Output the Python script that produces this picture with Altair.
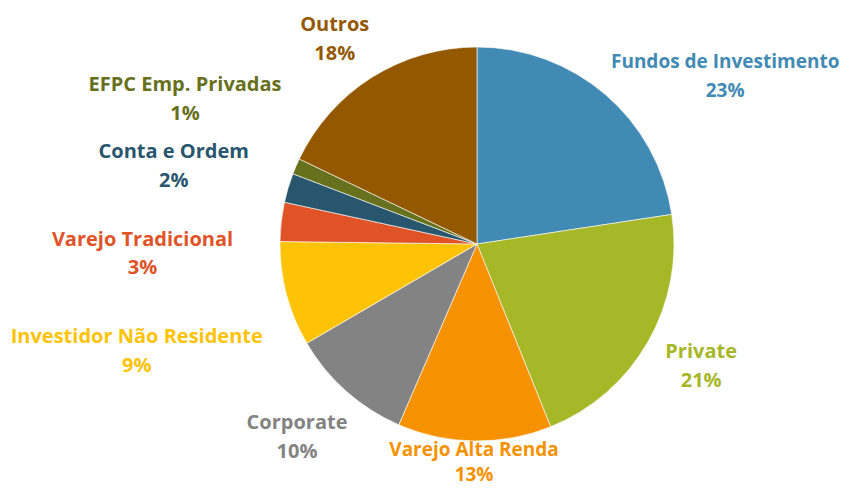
import altair as alt
import pandas as pd

# ---- data ----
categories = [
    "Fundos de Investimento",
    "Private",
    "Varejo Alta Renda",
    "Corporate",
    "Investidor Não Residente",
    "Varejo Tradicional",
    "Conta e Ordem",
    "EFPC Emp. Privadas",
    "Outros",
]
shares = [22.6, 21.3, 12.6, 10.1, 8.6, 3.2, 2.4, 1.3, 17.9]

# ---- styles ----
colors = ["#418AB3", "#A6B727", "#F69200", "#838383", "#FEC306",
          "#DF5327", "#27566D", "#67701D", "#935800"]
# per-label nudges (dx, dy, line height, font size) from the radial anchor, in pixels
label_nudge = {
    "Fundos de Investimento": (95, -4, 29, 19),
    "Private": (20, -8, 29, 20),
    "Varejo Alta Renda": (0, -29, 25, 19),
    "Corporate": (-24, 3, 29, 20),
    "Investidor Não Residente": (-113, 33, 29, 20),
    "Varejo Tradicional": (-101, 23, 28, 20),
    "Conta e Ordem": (-78, -25, 29, 20),
    "EFPC Emp. Privadas": (-76, -66, 29, 20),
    "Outros": (-17, -20, 29, 20),
}
CX, CY = 469, 236      # pie centre inside the plot area
R_PIE = 197
R_LABEL = 235
FONT = "Open Sans"

df = pd.DataFrame({"categoria": categories, "share": shares,
                   "ordem": list(range(len(categories)))})

base = alt.Chart(df)

pie = base.mark_arc(outerRadius=R_PIE, stroke="white", strokeWidth=0.6).encode(
    theta=alt.Theta("share:Q", stack=True),
    order=alt.Order("ordem:Q", sort="ascending"),
    color=alt.Color("categoria:N", scale=alt.Scale(domain=categories, range=colors),
                    legend=None),
    x=alt.value(CX),
    y=alt.value(CY),
)

lab = base.transform_window(
    cum="sum(share)", sort=[alt.SortField("ordem")], frame=[None, 0]
).transform_joinaggregate(total="sum(share)").transform_calculate(
    mid="((datum.cum - datum.share/2)/datum.total)*2*PI",
).transform_calculate(
    lx=f"{CX} + {R_LABEL}*sin(datum.mid)",
    ly=f"{CY} - {R_LABEL}*cos(datum.mid)",
    label="datum.categoria + '\\n' + format(datum.share, '.0f') + '%'",
)

layers = [pie]
for cat, col in zip(categories, colors):
    dx, dy, lh, fs = label_nudge[cat]
    layers.append(
        lab.transform_filter(alt.datum.categoria == cat).mark_text(
            font=FONT, fontWeight="bold", fontSize=fs, lineHeight=lh,
            lineBreak="\n", align="center", baseline="middle",
            dx=dx, dy=dy, color=col,
        ).encode(
            x=alt.X("lx:Q", scale=None, axis=None),
            y=alt.Y("ly:Q", scale=None, axis=None),
            text="label:N",
        )
    )

chart = alt.layer(*layers).properties(
    width=835, height=479, padding=0, autosize="none"
).configure_view(stroke=None)

chart.save("out.html", embed_options={"renderer": "svg", "actions": False})
